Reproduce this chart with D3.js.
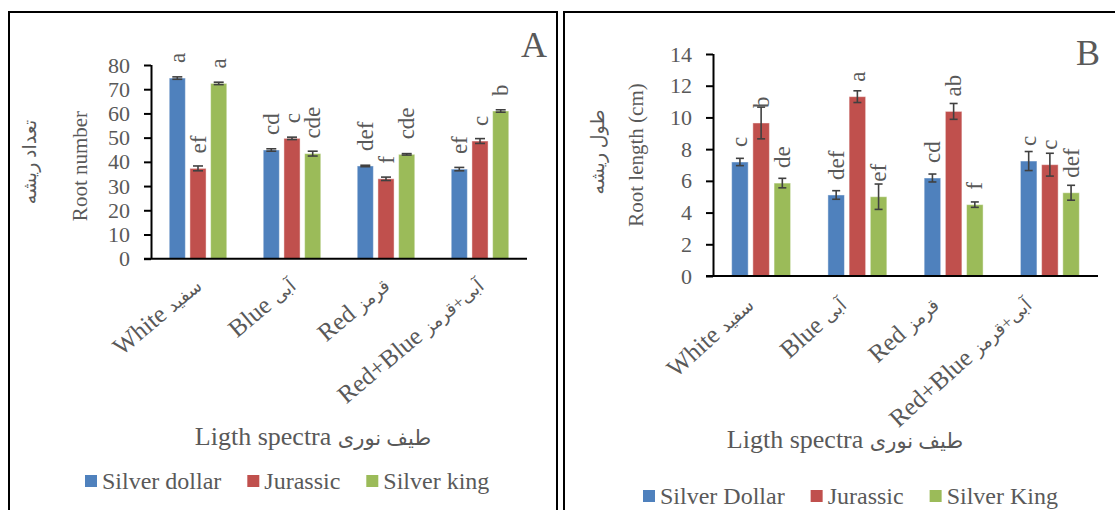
<!DOCTYPE html>
<html>
<head>
<meta charset="utf-8">
<script src="https://cdn.jsdelivr.net/npm/d3@7"></script>
<style>
  html, body { margin: 0; padding: 0; background: #fff; }
  svg { display: block; }
  text { font-family: "Liberation Serif", "DejaVu Sans", serif; fill: #595959; }
</style>
</head>
<body>
<svg id="chart" width="1115" height="510"></svg>
<script>
// ---------------- data ----------------
const categories = ["White سفید", "Blue آبی", "Red قرمز", "Red+Blue آبی+قرمز"];

const seriesA = ["Silver dollar", "Jurassic", "Silver king"];
const seriesB = ["Silver Dollar", "Jurassic", "Silver King"];
const colors = ["#4F81BD", "#C0504D", "#9BBB59"];

// Panel A: root number
const rootNumberSilverDollar = [74.6, 44.9, 38.3, 37.0];
const rootNumberJurassic     = [37.3, 49.7, 33.0, 48.6];
const rootNumberSilverKing   = [72.4, 43.4, 43.1, 61.0];
const rootNumberErrSilverDollar = [0.5, 0.5, 0.3, 0.7];
const rootNumberErrJurassic     = [1.0, 0.5, 0.7, 1.0];
const rootNumberErrSilverKing   = [0.5, 1.0, 0.3, 0.5];
const rootNumberLettersSilverDollar = ["a", "cd", "def", "ef"];
const rootNumberLettersJurassic     = ["ef", "c", "f", "c"];
const rootNumberLettersSilverKing   = ["a", "cde", "cde", "b"];
const rootNumberTicks = [0, 10, 20, 30, 40, 50, 60, 70, 80];

// Panel B: root length (cm)
const rootLengthSilverDollar = [7.19, 5.11, 6.18, 7.25];
const rootLengthJurassic     = [9.65, 11.31, 10.38, 7.02];
const rootLengthSilverKing   = [5.86, 5.00, 4.50, 5.25];
const rootLengthErrSilverDollar = [0.23, 0.27, 0.25, 0.60];
const rootLengthErrJurassic     = [1.00, 0.37, 0.50, 0.72];
const rootLengthErrSilverKing   = [0.30, 0.80, 0.17, 0.47];
const rootLengthLettersSilverDollar = ["c", "def", "cd", "c"];
const rootLengthLettersJurassic     = ["b", "a", "ab", "c"];
const rootLengthLettersSilverKing   = ["de", "ef", "f", "def"];
const rootLengthTicks = [0, 2, 4, 6, 8, 10, 12, 14];

const xTitleEn = "Ligth spectra";
const xTitleFa = "طیف نوری";

// ---------------- drawing ----------------
const svg = d3.select("#chart");

function splitLabel(c) {
  const i = c.indexOf(" ");
  return [c.slice(0, i), c.slice(i + 1)];
}

function drawPanel(cfg) {
  const g = svg.append("g");

  // frame
  g.append("rect")
    .attr("x", cfg.frame[0]).attr("y", cfg.frame[1])
    .attr("width", cfg.frame[2]).attr("height", cfg.frame[3])
    .attr("fill", "none").attr("stroke", "#000").attr("stroke-width", 2);

  const x = d3.scaleBand().domain(categories).range([cfg.x0, cfg.x1]).padding(0);
  const xs = d3.scaleBand().domain(cfg.series).range([0, x.bandwidth()])
    .paddingInner(0.22).paddingOuter(0.88);
  const y = d3.scaleLinear().domain([0, cfg.yMax]).range([cfg.y0, cfg.yTop]);

  const rows = [];
  cfg.series.forEach((s, si) => {
    categories.forEach((c, ci) => {
      rows.push({ s, si, c, v: cfg.values[si][ci], e: cfg.errors[si][ci], l: cfg.letters[si][ci] });
    });
  });
  const cx = d => x(d.c) + xs(d.s) + xs.bandwidth() / 2;

  // bars
  g.selectAll("rect.bar").data(rows).join("rect")
    .attr("class", "bar")
    .attr("x", d => x(d.c) + xs(d.s))
    .attr("width", xs.bandwidth())
    .attr("y", d => y(d.v))
    .attr("height", d => y(0) - y(d.v))
    .attr("fill", d => colors[d.si])
    .attr("stroke", "rgba(255,255,255,0.45)")
    .attr("stroke-width", 1);

  // error bars
  const cw = cfg.cap / 2;
  const eg = g.selectAll("g.err").data(rows).join("g").attr("class", "err")
    .attr("stroke", "#404040").attr("stroke-width", 1.6);
  eg.append("line")
    .attr("x1", cx).attr("x2", cx)
    .attr("y1", d => y(d.v - d.e)).attr("y2", d => y(d.v + d.e));
  eg.append("line")
    .attr("x1", d => cx(d) - cw).attr("x2", d => cx(d) + cw)
    .attr("y1", d => y(d.v + d.e)).attr("y2", d => y(d.v + d.e));
  eg.append("line")
    .attr("x1", d => cx(d) - cw).attr("x2", d => cx(d) + cw)
    .attr("y1", d => y(d.v - d.e)).attr("y2", d => y(d.v - d.e));

  // letters
  g.selectAll("text.lbl").data(rows).join("text")
    .attr("class", "lbl")
    .attr("transform", d => `translate(${cx(d)},${y(d.v) - 15}) rotate(-90)`)
    .attr("text-anchor", "start")
    .attr("dominant-baseline", "central")
    .style("font-size", "23px")
    .text(d => d.l);

  // y axis
  const yAxis = d3.axisLeft(y).tickValues(cfg.ticks).tickSize(7).tickSizeOuter(0).tickPadding(14)
    .tickFormat(d3.format("d"));
  const ya = g.append("g").attr("transform", `translate(${cfg.x0},0)`).call(yAxis);
  ya.select(".domain").attr("stroke", "#000").attr("stroke-width", 2)
    .attr("d", `M0.5,${y(cfg.yMax)}V${y(0)}`);
  ya.selectAll(".tick line").attr("stroke", "#000").attr("stroke-width", 2);
  ya.selectAll(".tick text").style("font-size", "22px").attr("fill", "#595959")
    .style("font-family", '"Liberation Serif", serif');

  // x axis line
  g.append("line")
    .attr("x1", cfg.x0 - 7).attr("x2", cfg.x1)
    .attr("y1", y(0)).attr("y2", y(0))
    .attr("stroke", "#000").attr("stroke-width", 2);

  // category labels
  const lx = d3.scalePoint().domain(categories).range(cfg.labelRange);
  const ct = g.selectAll("text.cat").data(categories).join("text")
    .attr("class", "cat")
    .attr("transform", c => `translate(${lx(c)},${cfg.labelY}) rotate(${cfg.labelAngle})`)
    .attr("text-anchor", "end");
  ct.append("tspan").style("font-size", "25px").text(c => splitLabel(c)[0] + " ");
  ct.append("tspan").style("font-size", "18px").text(c => splitLabel(c)[1]);

  // x title
  const xt = g.append("text")
    .attr("x", cfg.xTitlePos[0]).attr("y", cfg.xTitlePos[1])
    .attr("text-anchor", "middle");
  xt.append("tspan").style("font-size", "26px").text(xTitleEn + " ");
  xt.append("tspan").style("font-size", "21px").text(xTitleFa);

  // y titles
  g.append("text")
    .attr("transform", `translate(${cfg.yTitlePos[0]},${cfg.yTitlePos[1]}) rotate(-90)`)
    .attr("text-anchor", "middle")
    .style("font-size", "21px")
    .text(cfg.yTitle);
  g.append("text")
    .attr("transform", `translate(${cfg.yTitleFaPos[0]},${cfg.yTitleFaPos[1]}) rotate(-90)`)
    .attr("text-anchor", "middle")
    .style("font-size", "19px")
    .text(cfg.yTitleFa);

  // panel letter
  g.append("text")
    .attr("x", cfg.letterPos[0]).attr("y", cfg.letterPos[1])
    .style("font-size", "36px")
    .text(cfg.panel);

  // legend
  let lxp = cfg.legendX;
  cfg.series.forEach((s, si) => {
    g.append("rect")
      .attr("x", lxp).attr("y", cfg.legendY - 6)
      .attr("width", 12).attr("height", 12)
      .attr("fill", colors[si]);
    const t = g.append("text")
      .attr("x", lxp + 17).attr("y", cfg.legendY + 8)
      .style("font-size", "24px")
      .text(s);
    lxp += 17 + t.node().getComputedTextLength() + 26;
  });
}

drawPanel({
  panel: "A",
  frame: [9, 12, 548, 510],
  x0: 151, x1: 527, y0: 258.7, yTop: 65, yMax: 80,
  ticks: rootNumberTicks,
  series: seriesA,
  values: [rootNumberSilverDollar, rootNumberJurassic, rootNumberSilverKing],
  errors: [rootNumberErrSilverDollar, rootNumberErrJurassic, rootNumberErrSilverKing],
  letters: [rootNumberLettersSilverDollar, rootNumberLettersJurassic, rootNumberLettersSilverKing],
  cap: 10,
  labelRange: [203, 485], labelY: 288, labelAngle: -40,
  xTitlePos: [313, 445],
  yTitle: "Root number", yTitlePos: [87, 166],
  yTitleFa: "تعداد ریشه", yTitleFaPos: [36, 162],
  letterPos: [521, 57],
  legendX: 85, legendY: 481
});

drawPanel({
  panel: "B",
  frame: [564, 12, 560, 510],
  x0: 713, x1: 1098, y0: 276, yTop: 54, yMax: 14,
  ticks: rootLengthTicks,
  series: seriesB,
  values: [rootLengthSilverDollar, rootLengthJurassic, rootLengthSilverKing],
  errors: [rootLengthErrSilverDollar, rootLengthErrJurassic, rootLengthErrSilverKing],
  letters: [rootLengthLettersSilverDollar, rootLengthLettersJurassic, rootLengthLettersSilverKing],
  cap: 8,
  labelRange: [755, 1033], labelY: 307, labelAngle: -42,
  xTitlePos: [845, 448],
  yTitle: "Root length (cm)", yTitlePos: [643, 155],
  yTitleFa: "طول ریشه", yTitleFaPos: [604, 152],
  letterPos: [1076, 65],
  legendX: 643, legendY: 496
});
</script>
</body>
</html>
